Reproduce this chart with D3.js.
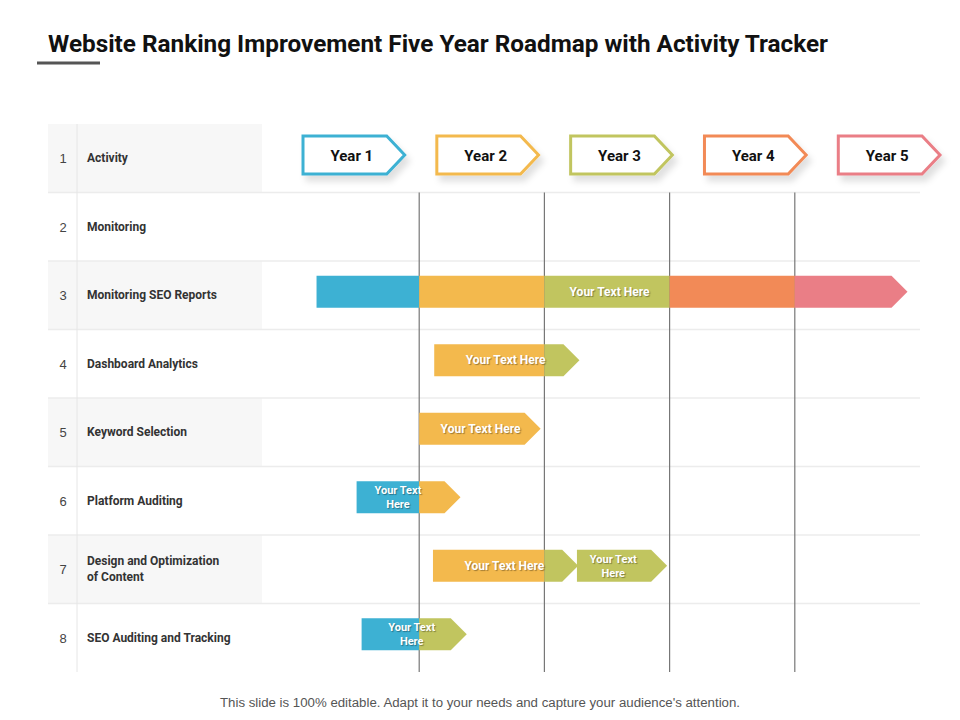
<!DOCTYPE html>
<html>
<head>
<meta charset="utf-8">
<script src="https://cdn.jsdelivr.net/npm/d3@7"></script>
<style>
  body { margin: 0; background: #fff; }
  .cond { font-family: "Roboto", "Liberation Sans", sans-serif; }
</style>
</head>
<body>
<div id="vis"></div>
<script>
const FRAME_WIDTH = 960;
const FRAME_HEIGHT = 720;

// data
const rows = ['Activity', 'Monitoring', 'Monitoring SEO Reports', 'Dashboard Analytics', 'Keyword Selection',
  'Platform Auditing', 'Design and Optimization|of Content', 'SEO Auditing and Tracking'];
const years = ['Year 1', 'Year 2', 'Year 3', 'Year 4', 'Year 5'];
const colors = ['#3db1d3', '#f3b94d', '#c1c55f', '#f28a57', '#ea7e86'];

// bar segments: row index, start, end (in years), colour index, arrow tip on end
const segments = [
  {row: 2, start: 0.18, end: 1, c: 0, tip: false},
  {row: 2, start: 1, end: 2, c: 1, tip: false},
  {row: 2, start: 2, end: 3, c: 2, tip: false},
  {row: 2, start: 3, end: 4, c: 3, tip: false},
  {row: 2, start: 4, end: 4.9, c: 4, tip: true},
  {row: 3, start: 1.12, end: 2, c: 1, tip: false},
  {row: 3, start: 2, end: 2.28, c: 2, tip: true},
  {row: 4, start: 1, end: 1.97, c: 1, tip: true},
  {row: 5, start: 0.5, end: 1, c: 0, tip: false},
  {row: 5, start: 1, end: 1.33, c: 1, tip: true},
  {row: 6, start: 1.11, end: 2, c: 1, tip: false},
  {row: 6, start: 2, end: 2.27, c: 2, tip: true},
  {row: 6, start: 2.26, end: 2.98, c: 2, tip: true},
  {row: 7, start: 0.54, end: 1, c: 0, tip: false},
  {row: 7, start: 1, end: 1.38, c: 2, tip: true}
];

// bar labels: row, centre (years), text lines
const labels = [
  {row: 2, x: 2.52, lines: ['Your Text Here']},
  {row: 3, x: 1.69, lines: ['Your Text Here']},
  {row: 4, x: 1.49, lines: ['Your Text Here']},
  {row: 5, x: 0.83, lines: ['Your Text', 'Here']},
  {row: 6, x: 1.68, lines: ['Your Text Here']},
  {row: 6, x: 2.55, lines: ['Your Text', 'Here']},
  {row: 7, x: 0.94, lines: ['Your Text', 'Here']}
];

const svg = d3.select('#vis').append('svg')
  .attr('width', FRAME_WIDTH).attr('height', FRAME_HEIGHT);

const defs = svg.append('defs');
const f = defs.append('filter').attr('id', 'shadow').attr('x', '-20%').attr('y', '-20%').attr('width', '150%').attr('height', '180%');
f.append('feDropShadow').attr('dx', 4).attr('dy', 6).attr('stdDeviation', 3)
  .attr('flood-color', '#000').attr('flood-opacity', 0.12);

// title
svg.append('text').attr('class', 'cond')
  .attr('x', 48).attr('y', 52)
  .attr('font-size', 24).attr('font-weight', 'bold').attr('fill', '#111')
  .attr('textLength', 780).attr('lengthAdjust', 'spacingAndGlyphs')
  .text('Website Ranking Improvement Five Year Roadmap with Activity Tracker');
svg.append('line').attr('x1', 37).attr('x2', 100).attr('y1', 63).attr('y2', 63)
  .attr('stroke', '#555').attr('stroke-width', 3);

// scales
const x = d3.scaleLinear().domain([0, 5]).range([294, 920]);
const y = d3.scaleBand().domain(d3.range(rows.length)).range([124, 672]);
const hx = d3.scaleBand().domain(years).range([303, 940]).paddingInner(0.24);
const BAR_H = 32;
const BAR_OFF = -3.5;
const TIP = 16;

// row backgrounds & separators
svg.selectAll('.rowbg').data(d3.range(rows.length)).enter().append('rect')
  .attr('x', 48).attr('y', (d) => y(d))
  .attr('width', 214).attr('height', y.bandwidth())
  .attr('fill', (d) => d % 2 === 0 ? '#f7f7f7' : '#fff');

svg.selectAll('.sep').data(d3.range(1, rows.length)).enter().append('line')
  .attr('x1', 48).attr('x2', 920)
  .attr('y1', (d) => y(d)).attr('y2', (d) => y(d))
  .attr('stroke', '#ececec').attr('stroke-width', 1.5);

svg.append('line').attr('x1', 77).attr('x2', 77).attr('y1', 124).attr('y2', 672)
  .attr('stroke', '#e6e6e6').attr('stroke-width', 1);

// row numbers and labels
svg.selectAll('.num').data(rows).enter().append('text')
  .attr('x', 63).attr('y', (d, i) => y(i) + y.bandwidth() / 2 + 5)
  .attr('text-anchor', 'middle').attr('font-family', 'Liberation Sans, Arial, sans-serif')
  .attr('font-size', 13).attr('fill', '#444')
  .text((d, i) => i + 1);

const rl = svg.selectAll('.rl').data(rows).enter().append('text')
  .attr('class', 'cond')
  .attr('font-size', 12).attr('font-weight', 'bold').attr('fill', '#333');
rl.each(function (d, i) {
  const parts = d.split('|');
  const cy = y(i) + y.bandwidth() / 2;
  d3.select(this).selectAll('tspan').data(parts).enter().append('tspan')
    .attr('x', 87)
    .attr('y', (p, j) => cy + 4 + (j - (parts.length - 1) / 2) * 16)
    .text((p) => p);
});

// year grid lines
svg.selectAll('.vline').data([1, 2, 3, 4]).enter().append('line')
  .attr('x1', (d) => x(d)).attr('x2', (d) => x(d))
  .attr('y1', y(1)).attr('y2', 672)
  .attr('stroke', '#777').attr('stroke-width', 1.2);

// year header arrows
const HW = hx.bandwidth(), HH = 38, HY = 136;
const yearG = svg.selectAll('.year').data(years).enter().append('g')
  .attr('transform', (d) => 'translate(' + hx(d) + ',' + HY + ')');
yearG.append('path')
  .attr('d', 'M0,0 H' + (HW - 18) + ' L' + HW + ',' + HH / 2 + ' L' + (HW - 18) + ',' + HH + ' H0 Z')
  .attr('fill', '#fff').attr('stroke', (d, i) => colors[i]).attr('stroke-width', 3)
  .attr('filter', 'url(#shadow)');
yearG.append('text').attr('class', 'cond')
  .attr('x', HW / 2 - 2).attr('y', HH / 2 + 6)
  .attr('text-anchor', 'middle').attr('font-size', 15).attr('font-weight', 'bold').attr('fill', '#111')
  .text((d) => d);

// bar segments
svg.selectAll('.seg').data(segments).enter().append('path')
  .attr('fill', (d) => colors[d.c])
  .attr('d', (d) => {
    const x0 = x(d.start), x1 = x(d.end);
    const top = y(d.row) + y.bandwidth() / 2 + BAR_OFF - BAR_H / 2, bot = top + BAR_H;
    if (d.tip) {
      return 'M' + x0 + ',' + top + ' H' + (x1 - TIP) + ' L' + x1 + ',' + (top + BAR_H / 2) +
        ' L' + (x1 - TIP) + ',' + bot + ' H' + x0 + ' Z';
    }
    return 'M' + x0 + ',' + top + ' H' + x1 + ' V' + bot + ' H' + x0 + ' Z';
  });

// bar labels
const lab = svg.selectAll('.lab').data(labels).enter().append('text')
  .attr('class', 'cond').attr('text-anchor', 'middle')
  .attr('font-size', (d) => d.lines.length > 1 ? 11 : 12)
  .attr('font-weight', 'bold').attr('fill', '#fff')
  .style('text-shadow', '1px 1px 1px rgba(0,0,0,0.35)');
lab.each(function (d) {
  const cy = y(d.row) + y.bandwidth() / 2 + BAR_OFF;
  d3.select(this).selectAll('tspan').data(d.lines).enter().append('tspan')
    .attr('x', x(d.x))
    .attr('y', (p, j) => cy + 4 + (j - (d.lines.length - 1) / 2) * 14)
    .text((p) => p);
});

// footer
svg.append('text').attr('x', 480).attr('y', 707).attr('text-anchor', 'middle')
  .attr('font-family', 'Liberation Sans, Arial, sans-serif').attr('font-size', 12.5).attr('fill', '#555')
  .attr('textLength', 520).attr('lengthAdjust', 'spacingAndGlyphs')
  .text("This slide is 100% editable. Adapt it to your needs and capture your audience's attention.");
</script>
</body>
</html>
